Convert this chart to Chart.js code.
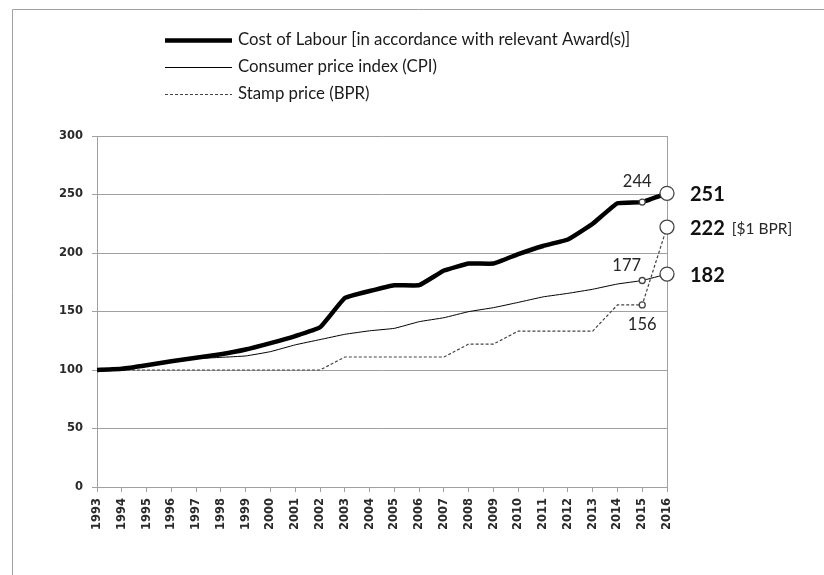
<!DOCTYPE html>
<html>
<head>
<meta charset="utf-8">
<script src="https://cdn.jsdelivr.net/npm/chart.js@4.4.0/dist/chart.umd.min.js"></script>
<style>
html,body{margin:0;padding:0;background:#fff;}
#wrap{position:relative;width:824px;height:575px;}
</style>
</head>
<body>
<div id="wrap"><canvas id="c" width="824" height="575"></canvas></div>
<script>
const years = ['1993','1994','1995','1996','1997','1998','1999','2000','2001','2002','2003','2004','2005','2006','2007','2008','2009','2010','2011','2012','2013','2014','2015','2016'];
const labour = [100,101,104,107.5,110.5,113.5,117.5,123,129,136.5,161.5,167.5,172.5,172.5,185,191,191,199,206,211.5,225,242.5,243.5,251];
const cpi    = [100,101.5,105,108,109.7,110.8,112,115.7,121.5,126,130.5,133.5,135.6,141.3,144.7,149.9,153.3,157.8,162.5,165.5,169,173.5,176.5,182];
const stamp  = [100,100,100,100,100,100,100,100,100,100,111.1,111.1,111.1,111.1,111.1,122.2,122.2,133.3,133.3,133.3,133.3,155.6,155.6,222.2];
const legendNames = ['Cost of Labour [in accordance with relevant Award(s)]','Consumer price index (CPI)','Stamp price (BPR)'];
const midLabels = ['244','177','156'];
const endLabels = ['251','182','222'];
const endNote = '[$1 BPR]';

const GRID = '#a0a0a0';
const last = years.length - 1;
const radii = (small, big) => years.map((_, i) => i === last ? big : (i === last - 1 ? small : 0));

const extras = {
  id: 'extras',
  beforeDraw(chart) {
    const ctx = chart.ctx;
    ctx.save();
    ctx.strokeStyle = GRID;
    ctx.lineWidth = 1;
    ctx.beginPath();
    ctx.moveTo(12.5, 600);
    ctx.lineTo(12.5, 9.5);
    ctx.lineTo(830, 9.5);
    ctx.stroke();
    ctx.restore();
  },
  afterDraw(chart) {
    const ctx = chart.ctx;
    ctx.save();
    // legend
    const rows = [40, 67, 94];
    chart.data.datasets.forEach((ds, i) => {
      ctx.beginPath();
      ctx.strokeStyle = ds.borderColor;
      ctx.lineWidth = ds.borderWidth;
      ctx.setLineDash(ds.borderDash || []);
      ctx.moveTo(165, rows[i] + 0.5);
      ctx.lineTo(232, rows[i] + 0.5);
      ctx.stroke();
      ctx.setLineDash([]);
      ctx.fillStyle = '#1a1a1a';
      ctx.font = '16.8px Lato';
      ctx.textAlign = 'left';
      ctx.textBaseline = 'middle';
      ctx.fillText(legendNames[i], 238, rows[i]);
    });
    // mid labels
    const offs = [[-5, -20], [-15.5, -14.5], [0, 19.5]];
    chart.data.datasets.forEach((ds, i) => {
      const p = chart.getDatasetMeta(i).data[last - 1];
      ctx.fillStyle = '#262626';
      ctx.font = '16.5px Lato';
      ctx.textAlign = 'center';
      ctx.textBaseline = 'middle';
      ctx.fillText(midLabels[i], p.x + offs[i][0], p.y + offs[i][1]);
    });
    // end labels
    chart.data.datasets.forEach((ds, i) => {
      const p = chart.getDatasetMeta(i).data[last];
      ctx.fillStyle = '#111';
      ctx.font = 'bold 20px Lato';
      ctx.textAlign = 'left';
      ctx.textBaseline = 'middle';
      ctx.fillText(endLabels[i], p.x + 23, p.y + 1.5);
      if (i === 2) {
        const w = ctx.measureText(endLabels[i]).width;
        ctx.font = '15.5px Lato';
        ctx.fillStyle = '#262626';
        ctx.fillText(endNote, p.x + 23 + w + 7, p.y + 1.5);
      }
    });
    ctx.restore();
  }
};

const tickFont = { family: 'DejaVu Sans', size: 11.5, weight: 'bold' };

new Chart(document.getElementById('c'), {
  type: 'line',
  data: {
    labels: years,
    datasets: [
      { label: legendNames[0], data: labour, borderColor: '#000', borderWidth: 4.5, tension: 0.1,
        pointRadius: radii(3, 7), pointBackgroundColor: '#fff', pointBorderColor: '#444', pointBorderWidth: 1.3, pointHoverRadius: 0 },
      { label: legendNames[1], data: cpi, borderColor: '#000', borderWidth: 1, tension: 0.1,
        pointRadius: radii(3, 7), pointBackgroundColor: '#fff', pointBorderColor: '#444', pointBorderWidth: 1.3, pointHoverRadius: 0 },
      { label: legendNames[2], data: stamp, borderColor: '#444', borderWidth: 1.2, borderDash: [3, 2], tension: 0,
        pointRadius: radii(3, 7), pointBackgroundColor: '#fff', pointBorderColor: '#444', pointBorderWidth: 1.3, pointHoverRadius: 0 }
    ]
  },
  options: {
    responsive: false,
    animation: false,
    events: [],
    layout: { padding: { left: 0, right: 157, top: 136, bottom: 0 } },
    plugins: { legend: { display: false }, tooltip: { enabled: false } },
    scales: {
      x: {
        offset: false,
        afterFit(s) { s.height = 88; },
        border: { display: true, color: GRID, width: 1 },
        grid: { color: c => c.index === last ? GRID : 'rgba(0,0,0,0)', tickColor: GRID, tickLength: 5, drawOnChartArea: true },
        ticks: { autoSkip: false, maxRotation: 90, minRotation: 90, color: '#2a2a2a', padding: 6, font: tickFont }
      },
      y: {
        min: 0, max: 300,
        afterFit(s) { s.width = 97; },
        border: { display: true, color: GRID, width: 1 },
        grid: { color: GRID, tickColor: GRID, tickLength: 5 },
        ticks: { stepSize: 50, color: '#2a2a2a', padding: 9, font: tickFont }
      }
    }
  },
  plugins: [extras]
});
</script>
</body>
</html>
